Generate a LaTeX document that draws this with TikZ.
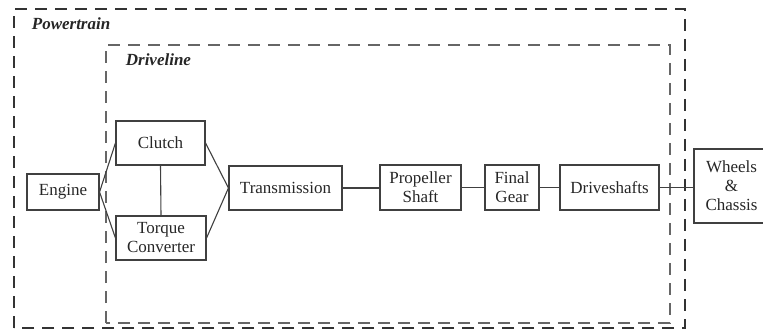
\documentclass[tikz,border=0pt]{standalone}
\usepackage{fontspec}
\setmainfont{Liberation Serif}
\usepackage{tikz}

\begin{document}
\begin{tikzpicture}[x=1pt, y=-1pt, line width=1.1pt,
		every node/.style={font=\fontsize{17}{19}\selectfont, text=black!85},
		blok/.style={draw=black!75, align=center, inner sep=0pt, minimum height=44pt},
		grens/.style={line width=1.4pt, dash pattern=on 12pt off 8pt},
		kop/.style={anchor=west, font=\fontsize{17}{19}\selectfont\bfseries\itshape}]
				\useasboundingbox (0,0) rectangle (763,331);
				% dashed frames
				\draw [grens, black!80] (14,328) -- (14,9) -- (685,9) -- (685,328) -- cycle;
				\draw [grens, black!60] (106,323) -- (106,45) -- (670,45) -- (670,323) -- cycle;
				\node [kop] (powertrain) at (28,24) {Powertrain};
				\node [kop] (driveline) at (122,60) {Driveline};
				% blocks
				\node [blok, minimum width=72pt, minimum height=36pt] (engine) at (63,192) {Engine};
				\node [blok, minimum width=89pt] (clutch) at (160.5,143) {Clutch};
				\node [blok, minimum width=90pt] (torque) at (161,238) {Torque\\Converter};
				\node [blok, minimum width=113pt] (trans) at (285.5,188) {Transmission};
				\node [blok, minimum width=81pt, minimum height=45pt] (prop) at (420.5,187.5) {Propeller\\Shaft};
				\node [blok, minimum width=54pt, minimum height=45pt] (final) at (512,187.5) {Final\\Gear};
				\node [blok, minimum width=99pt, minimum height=45pt] (drive) at (609.5,187.5) {Driveshafts};
				\node [blok, minimum width=75pt, minimum height=74pt] (wheels) at (731.5,186) {Wheels\\\&\\Chassis};
				% connections
				\draw [black!75] (engine.east) -- (clutch.west);
				\draw [black!75] (engine.east) -- (torque.west);
				\draw [black!75] (clutch.east) -- (trans.west);
				\draw [black!75] (torque.east) -- (trans.west);
				\draw [black!75] (clutch.south) -- (torque.north);
				\foreach \a/\b in {trans/prop, prop/final, final/drive, drive/wheels}
				\draw [black!75] (\a.east) -- (\a.east -| \b.west);
			\end{tikzpicture}
\end{document}
